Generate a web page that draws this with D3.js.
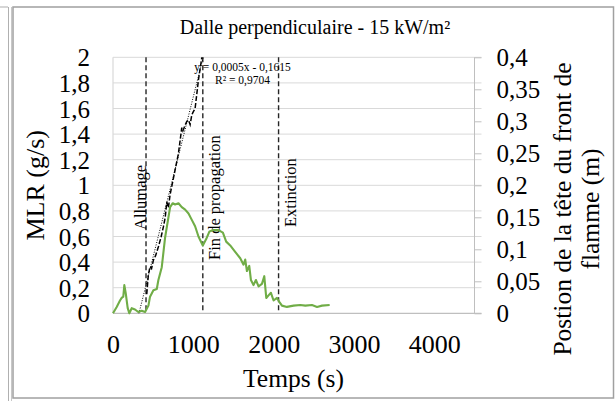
<!DOCTYPE html>
<html>
<head>
<meta charset="utf-8">
<script src="https://cdn.jsdelivr.net/npm/d3@7"></script>
<style>
  body { margin: 0; background: #fff; }
</style>
</head>
<body>
<div id="container"></div>
<script>
/* DATA */
const title = "Dalle perpendiculaire - 15 kW/m²";
const xTicks = [0, 1000, 2000, 3000, 4000];
const mlrTicks = [0, 0.2, 0.4, 0.6, 0.8, 1, 1.2, 1.4, 1.6, 1.8, 2];
const posTicks = [0, 0.05, 0.1, 0.15, 0.2, 0.25, 0.3, 0.35, 0.4];

// MLR (g/s) vs time (s)
const mlrTime = [0, 46, 87, 108, 128, 141, 158, 183, 203, 233, 274, 315, 357, 399, 441, 461, 503, 545, 565, 607, 648, 690, 711, 744, 773, 815, 856, 898, 940, 981, 1022, 1064, 1118, 1160, 1201, 1251, 1313, 1368, 1409, 1459, 1521, 1584, 1625, 1646, 1667, 1696, 1717, 1749, 1779, 1812, 1854, 1883, 1908, 1936, 1966, 1999, 2041, 2070, 2103, 2165, 2248, 2332, 2394, 2477, 2540, 2602, 2697];
const mlrValue = [0, 0.05, 0.10, 0.12, 0.13, 0.22, 0.16, 0.04, 0, 0.04, 0.03, 0.01, 0.02, 0.01, 0.06, 0.13, 0.18, 0.19, 0.26, 0.36, 0.59, 0.75, 0.83, 0.86, 0.85, 0.86, 0.83, 0.81, 0.78, 0.73, 0.68, 0.60, 0.53, 0.58, 0.64, 0.65, 0.65, 0.63, 0.56, 0.53, 0.48, 0.43, 0.38, 0.42, 0.33, 0.37, 0.26, 0.22, 0.26, 0.21, 0.23, 0.29, 0.12, 0.14, 0.16, 0.10, 0.12, 0.09, 0.06, 0.05, 0.06, 0.065, 0.06, 0.065, 0.05, 0.06, 0.065];

// flame front head position (m) vs time (s)
const posTime = [420, 440, 461, 480, 503, 530, 565, 600, 627, 650, 670, 690, 710, 731, 773, 815, 856, 870, 898, 920, 940, 960, 981, 1000, 1022, 1064, 1106];
const posValue = [0.03, 0.06, 0.073, 0.07, 0.083, 0.09, 0.104, 0.12, 0.135, 0.15, 0.174, 0.165, 0.185, 0.198, 0.224, 0.25, 0.29, 0.285, 0.294, 0.30, 0.302, 0.295, 0.31, 0.315, 0.32, 0.365, 0.40];

// linear trendline of the position
const trendSlope = 0.0005, trendIntercept = -0.1615;
const trendLabel = ["y = 0,0005x - 0,1615", "R² = 0,9704"];

// events
const events = [
  { name: "Allumage", t: 411, side: "left", bottom: 230 },
  { name: "Fin de propagation", t: 1118, side: "right", bottom: 260 },
  { name: "Extinction", t: 2061, side: "right", bottom: 227 }
];

/* CONSTANTS */
const width = 616, height = 401;
const plot = { left: 113, right: 474.5, top: 57.3, bottom: 313.3 };
const serif = "'Liberation Serif', 'Times New Roman', serif";

const fr = d3.formatLocale({ decimal: ",", thousands: "", grouping: [3], currency: ["", ""] });
const fmt = fr.format("~g");

/* SCALES */
const xScale = d3.scaleLinear().domain([0, 4500]).range([plot.left, plot.right]);
const yScale = d3.scaleLinear().domain([0, 2]).range([plot.bottom, plot.top]);
const y2Scale = d3.scaleLinear().domain([0, 0.4]).range([plot.bottom, plot.top]);

const svg = d3.select("#container").append("svg")
  .attr("width", width).attr("height", height);

// FRAME (document table borders)
svg.append("line").attr("x1", 0).attr("x2", 8).attr("y1", 7).attr("y2", 7)
  .attr("stroke", "#c8c8c8").attr("stroke-width", 1.5);
svg.append("line").attr("x1", 8.5).attr("x2", 8.5).attr("y1", 7).attr("y2", height)
  .attr("stroke", "#b0b0b0").attr("stroke-width", 1);
svg.append("rect").attr("x", 13).attr("y", 7).attr("width", 600.5).attr("height", 391)
  .attr("fill", "none").attr("stroke", "#a0a0a0").attr("stroke-width", 1.5);
svg.append("line").attr("x1", 11.5).attr("x2", 11.5).attr("y1", 7).attr("y2", height)
  .attr("stroke", "#c8c8c8").attr("stroke-width", 1);

// TITLE
svg.append("text")
  .attr("x", 315).attr("y", 34)
  .attr("text-anchor", "middle")
  .style("font-family", serif)
  .style("font-size", "20px")
  .text(title);

// GRIDLINES
svg.append("g").selectAll("line")
  .data(mlrTicks.filter(d => d > 0))
  .join("line")
  .attr("x1", plot.left).attr("x2", plot.right + 7)
  .attr("y1", d => yScale(d)).attr("y2", d => yScale(d))
  .attr("stroke", "#d9d9d9").attr("stroke-width", 1);

// AXES
const axisColor = "#bfbfbf";
svg.append("line")
  .attr("x1", plot.left).attr("x2", plot.right + 7)
  .attr("y1", plot.bottom).attr("y2", plot.bottom)
  .attr("stroke", axisColor).attr("stroke-width", 1.2);
svg.append("line")
  .attr("x1", plot.left).attr("x2", plot.left)
  .attr("y1", plot.top).attr("y2", plot.bottom)
  .attr("stroke", "#d9d9d9").attr("stroke-width", 1.2);

const styleTicks = (sel, size) => sel
  .attr("font-family", null).attr("font-size", null)
  .selectAll("text")
    .style("font-family", serif)
    .style("font-size", size + "px")
    .attr("fill", "#000");

const xAxis = d3.axisBottom(xScale).tickValues(xTicks).tickSize(0).tickPadding(0).tickFormat(fmt);
svg.append("g")
  .attr("transform", `translate(0,${plot.bottom})`)
  .call(xAxis)
  .call(g => g.select(".domain").remove())
  .call(g => styleTicks(g, 26))
  .selectAll("text")
    .attr("dy", null)
    .attr("y", 39.5);

const yAxis = d3.axisLeft(yScale).tickValues(mlrTicks).tickSize(0).tickPadding(0).tickFormat(fmt);
svg.append("g")
  .attr("transform", `translate(90,0)`)
  .call(yAxis)
  .call(g => g.select(".domain").remove())
  .call(g => styleTicks(g, 25))
  .selectAll("text")
    .attr("x", 0)
    .attr("dy", "0.34em");

const y2Axis = d3.axisRight(y2Scale).tickValues(posTicks).tickSize(7).tickPadding(15).tickFormat(fmt);
svg.append("g")
  .attr("transform", `translate(${plot.right},0)`)
  .call(y2Axis)
  .call(g => g.select(".domain").attr("stroke", axisColor).attr("d", `M0,${plot.top}V${plot.bottom}`))
  .call(g => g.selectAll(".tick line").attr("stroke", axisColor))
  .call(g => styleTicks(g, 25))
  .selectAll("text")
    .attr("dy", "0.34em");

// AXIS TITLES
svg.append("text")
  .attr("x", 293.5).attr("y", 387)
  .attr("text-anchor", "middle")
  .style("font-family", serif)
  .style("font-size", "25.5px")
  .text("Temps (s)");

svg.append("text")
  .attr("transform", `translate(44,${(plot.top + plot.bottom) / 2}) rotate(-90)`)
  .attr("text-anchor", "middle")
  .style("font-family", serif)
  .style("font-size", "26px")
  .text("MLR (g/s)");

const rightTitle = svg.append("text")
  .attr("transform", `translate(571,209) rotate(-90)`)
  .attr("text-anchor", "middle")
  .style("font-family", serif)
  .style("font-size", "25.5px");
rightTitle.append("tspan").attr("x", 0).attr("y", 0).text("Postion de la tête du front de");
rightTitle.append("tspan").attr("x", 0).attr("y", 27.5).text("flamme (m)");

// EVENT LINES
svg.append("g").selectAll("line")
  .data(events)
  .join("line")
  .attr("x1", d => xScale(d.t)).attr("x2", d => xScale(d.t))
  .attr("y1", plot.top).attr("y2", plot.bottom)
  .attr("stroke", "#262626").attr("stroke-width", 1.4)
  .attr("stroke-dasharray", "5,3");

svg.append("g").selectAll("text")
  .data(events)
  .join("text")
  .attr("transform", d => {
    const x = d.side === "left" ? xScale(d.t) - 0.5 : xScale(d.t) + 17.5;
    return `translate(${x},${d.bottom}) rotate(-90)`;
  })
  .style("font-family", serif)
  .style("font-size", "16.5px")
  .text(d => d.name);

// TRENDLINE
const trendStart = -trendIntercept / trendSlope;
const trendEnd = (0.4 - trendIntercept) / trendSlope;
svg.append("line")
  .attr("x1", xScale(trendStart)).attr("y1", y2Scale(0))
  .attr("x2", xScale(trendEnd)).attr("y2", y2Scale(0.4))
  .attr("stroke", "#000").attr("stroke-width", 1)
  .attr("stroke-dasharray", "1,1.5");

// POSITION SERIES
const posData = posTime.map((t, i) => ({ t, v: posValue[i] }));
svg.append("path")
  .datum(posData)
  .attr("d", d3.line().x(d => xScale(d.t)).y(d => y2Scale(d.v)))
  .attr("fill", "none")
  .attr("stroke", "#000").attr("stroke-width", 1.5)
  .attr("stroke-dasharray", "5,2");

// MLR SERIES
const mlrData = mlrTime.map((t, i) => ({ t, v: mlrValue[i] }));
svg.append("path")
  .datum(mlrData)
  .attr("d", d3.line().x(d => xScale(d.t)).y(d => yScale(d.v)))
  .attr("fill", "none")
  .attr("stroke", "#70ad47").attr("stroke-width", 2.1)
  .attr("stroke-linejoin", "round");

// TRENDLINE LABEL
svg.append("g").selectAll("text")
  .data(trendLabel)
  .join("text")
  .attr("x", 242.5).attr("y", (d, i) => 71 + i * 13)
  .attr("text-anchor", "middle")
  .style("font-family", serif)
  .style("font-size", "11.5px")
  .text(d => d);
</script>
</body>
</html>
